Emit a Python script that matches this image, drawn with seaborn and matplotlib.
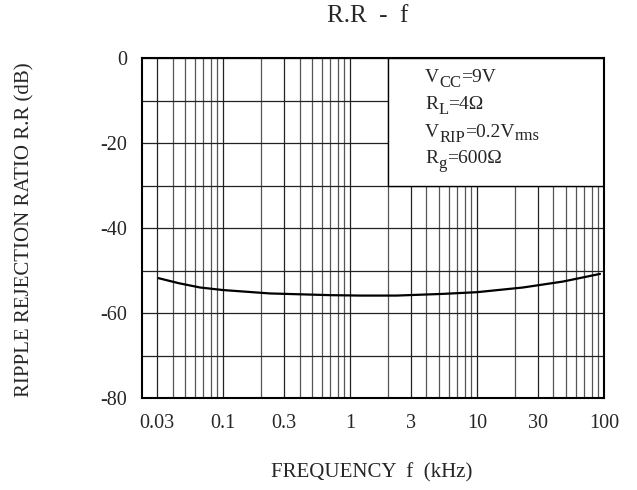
import numpy as np
import pandas as pd
import matplotlib
matplotlib.use("Agg")
import matplotlib.pyplot as plt
import matplotlib.ticker as mticker
import matplotlib.transforms as mtransforms
from matplotlib.patches import Rectangle
import seaborn as sns

# ---- data ----
freq_khz = [0.031, 0.045, 0.066, 0.1, 0.234, 0.70, 1.2, 2.33, 5.4, 10, 23, 47.5, 93]
rr_db = [-51.8, -53.0, -54.0, -54.6, -55.4, -55.8, -55.9, -55.9, -55.5, -55.1, -54.0, -52.6, -50.8]

x_ticks = [0.03, 0.1, 0.3, 1, 3, 10, 30, 100]
x_tick_labels = ["0.03", "0.1", "0.3", "1", "3", "10", "30", "100"]
y_ticks = [0, -20, -40, -60, -80]
y_tick_labels = ["0", "-20", "-40", "-60", "-80"]

# condition lines: (text, is_subscript)
cond_lines = [
    [("V", 0), ("CC", 1), ("=9V", 0)],
    [("R", 0), ("L", 1), ("=4Ω", 0)],
    [("V", 0), ("RIP", 1), ("=0.2V", 0), ("rms", 2)],
    [("R", 0), ("g", 1), ("=600Ω", 0)],
]
box_freq = (2, 100)
box_db = (-30, 0)

title = "R.R  -  f"
x_label = "FREQUENCY  f  (kHz)"
y_label = "RIPPLE REJECTION RATIO R.R (dB)"

# ---- style ----
sns.set_style("white")
plt.rcParams["font.family"] = ["Liberation Serif", "DejaVu Serif"]

W, H = 637, 490
fig = plt.figure(figsize=(W / 100, H / 100), dpi=100)
L, R, T, B = 142, 604, 58, 398
ax = fig.add_axes([L / W, 1 - B / H, (R - L) / W, (B - T) / H])

df = pd.DataFrame({"f": freq_khz, "rr": rr_db})
sns.lineplot(data=df, x="f", y="rr", ax=ax, color="black", linewidth=1.6, zorder=3)

ax.set_xscale("log")
ax.set_xlim(0.023, 100)
ax.set_ylim(-80, 0)

ax.xaxis.set_major_locator(mticker.FixedLocator(x_ticks))
ax.xaxis.set_major_formatter(mticker.FixedFormatter(x_tick_labels))
ax.xaxis.set_minor_locator(mticker.LogLocator(base=10, subs=np.arange(2, 10), numticks=50))
ax.xaxis.set_minor_formatter(mticker.NullFormatter())
ax.yaxis.set_major_locator(mticker.FixedLocator(y_ticks))
ax.yaxis.set_major_formatter(mticker.FixedFormatter(y_tick_labels))
ax.yaxis.set_minor_locator(mticker.MultipleLocator(10))

ax.set_axisbelow(True)
ax.grid(True, which="major", axis="x", color="#222222", linewidth=0.9)
ax.grid(True, which="minor", axis="x", color="#555555", linewidth=0.9)
ax.grid(True, which="both", axis="y", color="#222222", linewidth=0.9)

ax.tick_params(axis="both", which="both", length=0)
ax.tick_params(axis="x", which="major", pad=11.5, labelsize=14.5)
ax.tick_params(axis="y", which="major", pad=10.8, labelsize=14.5)

for s in ax.spines.values():
    s.set_color("black")
    s.set_linewidth(1.5)
    s.set_visible(True)

# condition box (covers grid)
ax.add_patch(Rectangle((box_freq[0], box_db[0]), box_freq[1] - box_freq[0],
                       box_db[1] - box_db[0], facecolor="white", edgecolor="black",
                       linewidth=1.0, zorder=1.5))

fig.canvas.draw()
renderer = fig.canvas.get_renderer()
ys = [0.929, 0.850, 0.768, 0.691]
main_fs, sub_fs = 14, 12
sub_drop = {0: 0, 1: -5, 2: -3}
for pieces, yy in zip(cond_lines, ys):
    dx = 0.0
    for txt, kind in pieces:
        tr = mtransforms.offset_copy(ax.transAxes, fig=fig, x=dx, y=sub_drop[kind], units="dots")
        t = ax.text(0.613, yy, txt, transform=tr, fontsize=main_fs if kind == 0 else sub_fs,
                    va="baseline", ha="left", zorder=4)
        dx += t.get_window_extent(renderer).width

ax.set_title(title, fontsize=18, pad=26, x=0.489)
ax.set_xlabel(x_label, fontsize=15)
ax.set_ylabel(y_label, fontsize=15)
ax.xaxis.set_label_coords(0.498, -0.191)
ax.yaxis.set_label_coords(-0.2327, 0.494)

fig.savefig("out.png", dpi=100)
